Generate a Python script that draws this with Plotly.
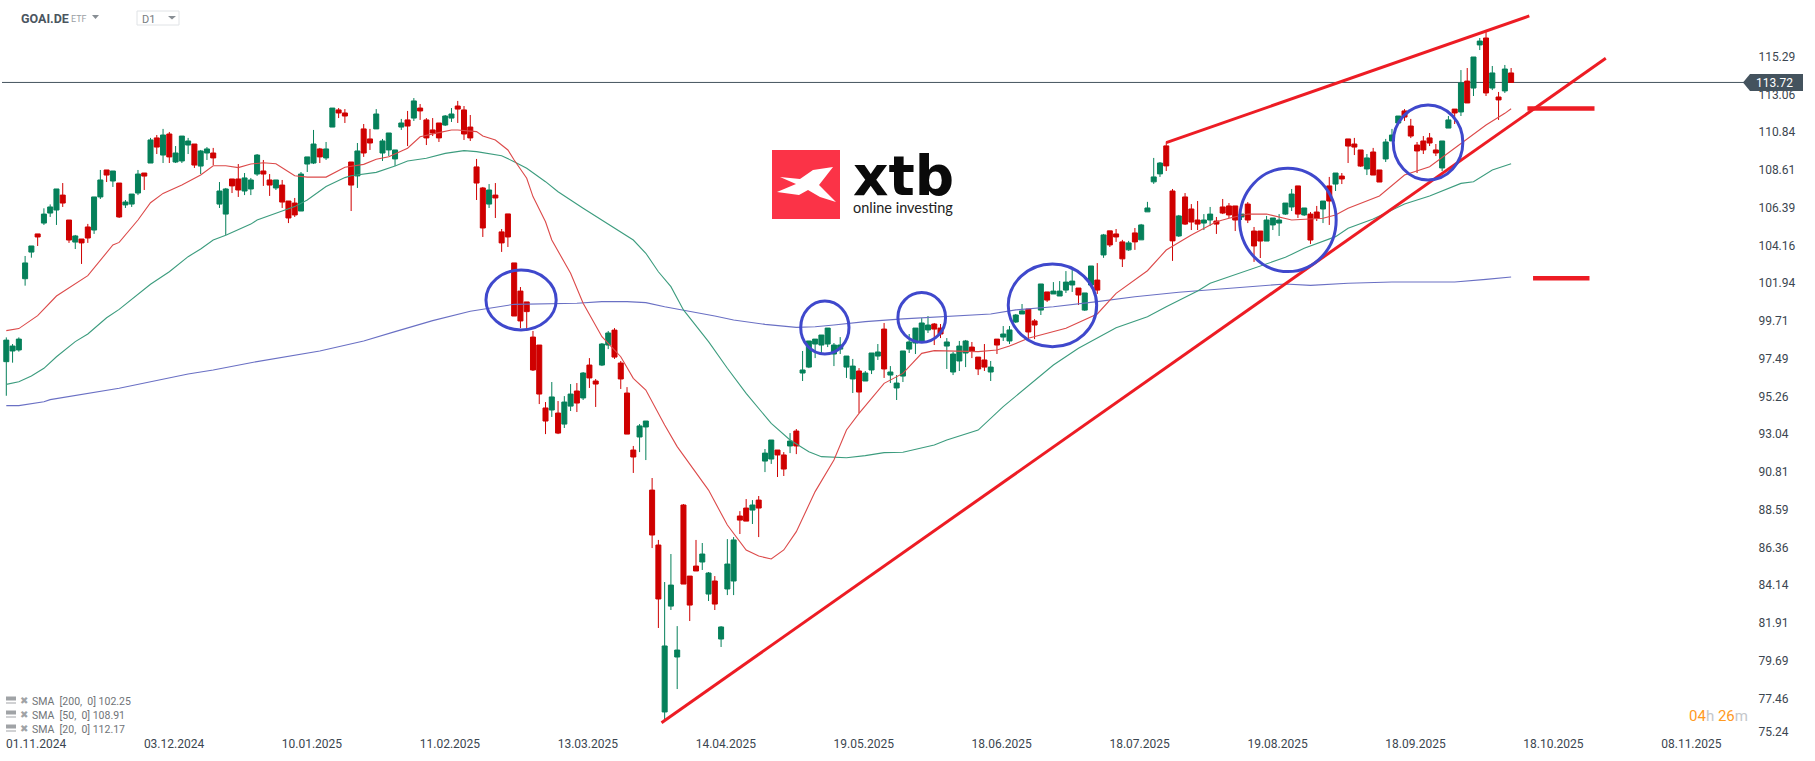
import plotly.graph_objects as go

# ---------- chart values ----------
directions = (
    "GGGGGRGGGR" "RGRRGGRGRG" "GGRGRGRGGG" "RGGRGGRRGG" "GRRGRRRGGG"
    "RGGRRRGRRG" "GGGGRGRRRR" "GGRRRRRGRR" "RRRRRRRGRG" "GRGRRGGRRR"
    "RGGRRGGGRR" "RGGRGGGRRG" "RGGRRGRGGG" "GGGGGGRGGG" "RGGGGGGGRR"
    "GGGGRRRGRG" "GGGRRGRGGG" "GRGGRGRRRG" "RGGGGRRGRR" "RGGRRRRGRR"
    "RGGGGGRGRR" "GRGRRRRGRR" "GGGRRRRRRG" "GRGRGGRGRGR"
)
highs = [
    98.69,98.30,98.69,103.49,104.08,104.79,106.30,106.53,107.44,107.79,
    105.61,104.73,104.49,105.38,106.97,108.56,108.56,108.50,107.79,106.79,
    107.14,108.56,108.38,110.45,110.62,110.98,110.80,109.97,110.56,110.45,
    110.09,109.74,109.91,109.86,107.85,107.50,108.03,108.91,108.38,108.09,
    109.50,109.15,108.32,107.97,107.97,106.73,106.91,108.44,109.33,110.92,
    109.86,110.21,112.21,112.21,112.15,109.03,110.15,111.27,110.98,112.15,
    110.39,110.74,109.74,111.57,112.04,112.80,112.45,111.62,111.62,111.33,
    111.80,112.21,112.63,112.33,111.80,109.21,107.56,107.73,107.79,105.08,
    105.97,103.08,101.66,100.78,99.07,98.24,94.88,96.06,94.94,95.23,
    95.94,96.00,96.65,97.47,96.24,98.36,99.07,99.24,97.30,95.76,
    92.29,93.58,93.76,90.40,86.75,84.27,85.92,81.67,88.87,84.62,
    86.75,86.57,84.86,84.62,81.67,86.80,86.92,88.45,89.16,89.10,
    89.34,92.11,92.64,92.05,91.93,93.05,93.29,97.89,98.48,98.59,
    98.83,99.24,98.36,98.71,97.59,97.42,96.88,96.71,97.77,98.30,
    99.54,97.00,96.47,97.89,98.89,99.24,99.83,99.95,99.54,99.48,
    98.65,97.83,98.48,98.54,98.42,97.53,98.30,97.30,98.59,99.36,
    99.36,100.07,100.66,100.36,99.77,101.84,101.37,101.95,102.01,102.60,
    102.66,101.60,101.31,102.90,103.07,104.79,104.97,105.08,104.44,104.38,
    105.14,105.38,106.68,109.27,109.03,110.21,107.44,105.91,107.20,106.55,
    106.73,105.96,106.38,105.79,106.85,106.61,106.44,105.96,106.67,105.20,
    104.96,105.85,105.73,105.96,106.61,107.44,107.62,106.32,106.08,106.44,
    106.73,108.15,108.38,108.38,110.39,110.45,109.74,109.50,109.86,108.56,
    110.39,110.98,111.74,112.15,111.57,110.21,110.56,110.74,110.09,110.27,
    111.74,112.15,114.45,114.57,115.22,116.34,116.69,114.69,113.16,114.75,114.57,
]
body_tops = [
    98.53,98.18,98.59,103.08,104.08,104.79,105.96,106.38,107.44,107.08,
    105.61,104.67,104.49,105.20,106.97,107.97,108.56,108.50,107.79,106.67,
    107.14,108.32,108.38,110.33,110.45,110.62,110.68,109.56,110.56,110.27,
    110.09,109.68,109.80,109.56,107.32,107.44,108.03,108.03,108.09,107.97,
    109.44,108.50,107.97,107.97,107.67,106.73,106.61,108.32,109.33,110.09,
    109.80,109.80,112.21,112.10,111.92,109.03,109.68,110.98,110.39,111.86,
    110.27,110.74,109.74,111.33,111.51,112.63,112.21,111.51,110.92,111.33,
    111.74,111.86,112.33,112.10,111.09,108.74,107.50,107.38,107.08,104.91,
    105.97,103.08,101.42,100.78,98.71,98.24,94.53,95.18,94.23,94.88,
    95.35,95.53,96.59,97.06,96.12,98.30,98.95,99.12,97.18,95.41,
    92.05,93.47,93.76,89.69,86.45,80.50,84.09,80.26,88.81,84.62,
    85.21,85.92,84.80,84.33,81.62,85.33,86.75,88.16,88.63,88.81,
    89.10,91.87,92.64,92.05,91.76,92.58,93.17,96.77,98.48,98.59,
    98.83,99.24,98.24,98.24,97.59,97.00,96.71,96.59,97.77,97.83,
    99.18,96.65,96.00,97.89,98.42,99.24,99.54,99.42,99.48,99.24,
    98.42,97.71,98.18,98.48,98.12,97.53,97.36,96.94,98.59,98.89,
    99.13,100.01,100.25,100.36,99.66,101.84,101.37,101.42,101.42,101.95,
    102.01,101.60,101.31,102.90,102.07,104.73,104.97,104.79,104.32,104.26,
    104.85,105.32,106.32,108.15,108.97,109.98,107.32,105.85,106.97,106.26,
    105.61,105.61,105.96,105.55,106.38,106.44,106.44,105.96,106.55,104.96,
    104.96,105.61,105.73,105.61,106.61,107.14,107.62,106.32,105.96,106.08,
    106.73,107.62,108.38,108.20,110.39,110.09,109.74,109.27,109.62,108.56,
    110.21,110.62,111.74,112.04,111.15,110.03,110.27,110.45,109.74,110.27,
    111.51,112.15,113.69,113.80,115.22,116.16,116.34,114.28,112.86,114.51,114.28,
]
body_bottoms = [
    97.26,97.89,97.95,102.15,103.72,104.61,105.43,106.02,106.20,106.61,
    104.43,104.31,104.26,104.55,105.02,106.97,108.26,107.91,105.79,106.50,
    106.55,107.20,108.20,108.97,109.91,109.44,109.33,109.03,109.09,110.03,
    108.85,108.79,109.56,109.27,106.55,105.96,107.62,107.38,107.32,107.44,
    108.32,108.32,107.67,107.50,106.67,105.73,105.91,106.14,108.91,108.97,
    109.33,109.27,111.09,111.92,111.74,107.67,108.21,109.56,110.15,110.98,
    109.56,109.74,109.21,111.09,111.15,111.62,112.04,110.45,110.74,110.45,
    111.21,111.62,112.15,110.68,110.45,107.79,105.14,106.55,106.91,104.26,
    104.61,99.95,99.66,100.21,96.77,95.35,93.76,94.41,93.05,93.58,
    94.64,94.82,95.12,96.30,95.94,97.06,98.24,97.53,96.24,92.99,
    91.64,92.82,93.41,87.04,83.27,76.61,82.85,79.85,84.15,82.91,
    84.92,85.45,83.56,82.97,80.91,83.86,84.33,87.92,87.86,88.51,
    88.63,91.40,91.52,91.76,90.93,92.29,92.29,96.59,96.94,98.30,
    98.24,98.30,97.71,98.00,96.94,96.24,95.47,96.12,96.77,97.59,
    96.83,96.47,95.71,96.41,98.00,98.36,98.48,99.13,99.18,98.89,
    98.18,96.65,97.30,97.77,97.89,96.83,96.94,96.65,98.24,98.71,
    98.48,99.60,100.07,99.01,99.42,100.30,100.89,101.25,101.13,101.48,
    101.78,101.19,100.30,101.78,101.48,103.55,104.14,104.61,103.32,103.85,
    104.32,104.44,106.09,107.86,108.33,108.80,104.38,104.67,105.37,105.49,
    105.37,105.43,105.61,105.37,106.02,105.91,105.61,105.79,105.61,104.08,
    104.37,104.37,105.32,105.43,105.96,106.38,105.96,105.91,104.43,105.73,
    106.26,106.73,107.73,108.03,109.97,109.91,108.79,108.62,108.26,107.85,
    109.21,110.27,111.33,111.68,110.56,109.68,109.74,110.15,109.56,108.68,
    111.03,111.92,111.98,112.51,113.39,115.93,113.10,113.39,112.69,113.22,113.72,
]
lows = [
    95.25,97.20,97.85,101.74,103.39,104.08,105.32,105.79,105.32,106.38,
    104.26,103.90,103.02,104.26,104.79,106.85,107.85,107.56,105.73,106.32,
    106.38,107.08,107.38,108.97,109.50,108.97,108.97,108.97,108.97,109.50,
    108.68,108.32,109.15,108.85,106.32,104.73,107.20,106.97,107.08,107.08,
    108.21,107.62,107.03,107.38,106.32,105.43,105.79,106.14,108.44,108.91,
    108.97,109.15,111.09,111.62,111.33,106.14,107.50,109.33,109.74,110.98,
    109.09,109.38,108.79,110.92,109.97,111.45,111.51,110.03,110.56,110.21,
    111.15,111.39,111.33,110.33,110.27,106.79,104.61,106.32,105.73,103.73,
    104.02,99.95,99.24,99.07,96.71,94.76,92.99,94.00,92.99,93.35,
    94.35,94.29,95.00,95.71,94.59,97.00,98.00,97.42,95.65,92.99,
    90.70,91.93,91.46,86.27,81.56,76.13,82.62,77.96,84.15,81.97,
    84.92,84.98,83.15,82.62,80.44,83.50,83.50,87.10,87.86,87.69,
    86.92,90.75,91.23,90.46,90.52,91.87,91.81,96.12,96.88,97.47,
    97.77,98.12,97.00,97.71,96.30,95.41,94.23,96.12,96.53,97.36,
    96.30,96.00,95.00,96.06,97.77,97.71,98.48,98.95,98.24,98.65,
    96.83,96.47,96.71,96.94,97.47,96.47,96.71,96.12,97.71,98.48,
    98.30,99.54,100.07,98.54,98.59,100.01,100.78,101.25,101.13,101.31,
    101.37,100.60,100.25,101.72,101.25,103.38,104.02,104.32,102.84,103.79,
    103.85,104.44,106.09,107.74,108.15,108.50,103.20,104.61,105.32,105.02,
    105.02,105.02,105.26,104.79,105.96,105.73,104.96,105.61,105.43,103.14,
    103.37,104.37,105.02,104.67,105.91,106.14,105.73,105.85,104.20,105.55,
    105.43,105.32,107.32,107.73,108.97,109.44,108.74,108.26,108.26,107.85,
    109.03,110.27,111.33,111.45,110.44,108.38,109.50,109.97,109.38,108.50,
    111.03,111.27,111.74,112.51,112.92,115.63,112.92,113.27,111.51,113.10,113.72,
]

sma20_x = [0,2,5,8,13,17,18,21,23,25,28,31,33,35,37,39,41,43,45,46,48,51,54,57,59,61,64,66,69,71,72,75,76,78,79,80,81,83,84,86,87,90,92,95,98,100,102,105,107,112,115,118,120,122,124,126,129,132,134,136,140,143,146,148,155,158,160,163,169,174,177,182,185,189,193,195,198,201,205,210,212,214,219,223,227,231,236,239,240]
sma20_y = [99.09,99.21,99.97,101.13,102.33,104.14,104.29,105.61,106.63,107.18,107.67,108.26,108.81,108.81,108.70,108.91,108.99,108.93,108.46,108.22,108.14,108.14,108.72,108.89,109.19,109.34,109.84,110.52,110.76,110.92,110.92,110.82,110.56,110.33,110.03,109.74,109.15,108.07,106.99,105.51,104.43,102.47,100.70,98.73,97.55,96.28,95.59,93.53,92.25,89.69,87.63,86.16,85.80,85.63,86.16,87.24,89.60,91.46,93.23,94.21,95.98,96.57,97.75,97.91,97.85,97.95,98.18,98.64,99.23,100.07,101.29,102.62,103.84,104.73,105.51,105.71,105.96,105.96,105.61,105.71,105.91,106.30,107.03,108.26,108.75,109.84,111.21,111.90,112.17]

sma50_x = [0,2,4,6,8,11,13,16,18,20,23,26,29,31,33,35,38,39,40,43,46,48,51,54,55,59,62,64,67,70,73,75,77,79,81,83,86,88,90,92,100,102,104,106,108,112,115,118,122,125,128,130,134,137,140,143,148,150,155,159,167,171,177,182,185,190,192,195,204,207,212,214,218,223,227,232,234,237,240]
sma50_y = [95.92,96.08,96.41,96.87,97.55,98.44,98.89,99.85,100.34,100.95,101.82,102.56,103.45,103.90,104.43,104.71,105.22,105.37,105.61,106.00,106.40,106.79,107.58,108.11,108.22,108.42,108.79,109.09,109.25,109.54,109.70,109.64,109.50,109.40,109.05,108.66,107.87,107.28,106.79,106.30,104.43,103.65,102.56,101.68,100.31,98.44,96.87,95.39,93.62,92.64,91.95,91.66,91.60,91.72,91.90,91.92,92.35,92.64,93.23,94.61,97.06,98.05,99.26,99.91,100.50,101.42,101.88,102.27,103.41,103.94,104.63,105.12,105.67,106.55,107.03,107.77,107.87,108.56,108.93]

sma200_x = [0,2,6,7,18,23,29,33,39,50,57,62,68,74,77,81,91,95,99,102,105,108,113,116,121,126,129,132,137,143,148,157,161,167,174,180,187,194,200,204,208,214,221,231,236,240]
sma200_y = [94.67,94.67,94.90,95.02,95.69,96.08,96.53,96.77,97.20,97.89,98.48,99.03,99.68,100.23,100.40,100.64,100.70,100.80,100.80,100.74,100.50,100.31,99.95,99.72,99.46,99.28,99.32,99.42,99.62,99.78,99.87,100.07,100.31,100.50,100.80,101.09,101.35,101.54,101.72,101.84,101.76,101.88,101.96,101.96,102.11,102.25]

last_price = 113.72
support_x, support_y = [104.5, 255.1], [75.98, 115.14]
resistance_x, resistance_y = [185.0, 242.9], [110.17, 117.64]
target_up_x, target_up_y = [242.6, 253.3], [112.19, 112.19]
target_down_x, target_down_y = [243.5, 252.5], [102.17, 102.17]

circle_left = [76.5, 126.7, 142.2, 159.8, 196.7, 221.2]
circle_right = [87.7, 134.4, 149.8, 173.9, 212.1, 232.3]
circle_low = [99.13, 97.71, 98.40, 98.14, 102.57, 107.97]
circle_high = [102.66, 100.84, 101.33, 103.02, 108.66, 112.39]

price_labels = ["115.29","113.06","110.84","108.61","106.39","104.16","101.94","99.71","97.49","95.26",
                "93.04","90.81","88.59","86.36","84.14","81.91","79.69","77.46","75.24"]
price_ticks = [115.24,113.01,110.79,108.56,106.34,104.11,101.89,99.66,97.44,95.21,
               92.99,90.76,88.54,86.31,84.09,81.86,79.64,77.41,75.43]
date_ticks = [4.75,26.75,48.75,70.75,92.75,114.75,136.75,158.75,180.75,202.75,224.75,246.75,268.75]
date_labels = ["01.11.2024","03.12.2024","10.01.2025","11.02.2025","13.03.2025","14.04.2025",
               "19.05.2025","18.06.2025","18.07.2025","19.08.2025","18.09.2025","18.10.2025","08.11.2025"]
legend_labels = ["SMA  [200,  0] 102.25", "SMA  [50,  0] 108.91", "SMA  [20,  0] 112.17"]

# ---------- styles ----------
W, H = 1815, 761
PLOT_W, PLOT_H = 1752, 738
RED, GREEN = "#cf0000", "#05805a"
PAINT_RED, PAINT_BLUE = "#ed1c24", "#3f48cc"
INK = "#3b4650"


def px(x):
    return x / PLOT_W


def py(y):
    return 1 - y / PLOT_H


def poly(points):
    return "M " + " L ".join(f"{px(x):.5f},{py(y):.5f}" for x, y in points) + " Z"


opens = [b if d == "G" else t for d, t, b in zip(directions, body_tops, body_bottoms)]
closes = [t if d == "G" else b for d, t, b in zip(directions, body_tops, body_bottoms)]
idx = list(range(len(closes)))

fig = go.Figure()
for xs, ys, col in [(sma200_x, sma200_y, "#6a70c4"),
                    (sma50_x, sma50_y, "#3c9c7e"),
                    (sma20_x, sma20_y, "#dc4a4a")]:
    fig.add_trace(go.Scatter(x=xs, y=ys, mode="lines", line=dict(color=col, width=1.1),
                             hoverinfo="skip", showlegend=False))
fig.add_trace(go.Candlestick(
    x=idx, open=opens, high=highs, low=lows, close=closes, whiskerwidth=0,
    increasing=dict(line=dict(color=GREEN, width=1), fillcolor=GREEN),
    decreasing=dict(line=dict(color=RED, width=1), fillcolor=RED),
    showlegend=False, hoverinfo="skip"))
for xs, ys, w in [(support_x, support_y, 3), (resistance_x, resistance_y, 3),
                  (target_up_x, target_up_y, 4.5), (target_down_x, target_down_y, 4.5)]:
    fig.add_trace(go.Scatter(x=xs, y=ys, mode="lines", hoverinfo="skip", showlegend=False,
                             line=dict(color=PAINT_RED, width=w)))

shapes = [dict(type="line", xref="paper", yref="y", x0=px(2), x1=px(1746), y0=last_price, y1=last_price,
               line=dict(color="#44535e", width=1), layer="below")]
for x0, x1, y0, y1 in zip(circle_left, circle_right, circle_low, circle_high):
    shapes.append(dict(type="circle", xref="x", yref="y", x0=x0, x1=x1, y0=y0, y1=y1,
                       line=dict(color=PAINT_BLUE, width=3)))


def paper_shape(**kw):
    kw.update(xref="paper", yref="paper", line=kw.get("line", dict(width=0)))
    shapes.append(kw)


# price tag
paper_shape(type="path", fillcolor="#44535e",
            path=poly([(1743, 82.5), (1750, 74), (1803, 74), (1803, 91), (1750, 91)]))
# logo
paper_shape(type="rect", fillcolor="#fb3347", x0=px(772), x1=px(840), y0=py(219), y1=py(150))
paper_shape(type="path", fillcolor="#ffffff", path=poly([
    (833, 167), (813, 170), (800, 179), (780, 177), (796, 184), (777, 192), (799, 195),
    (808, 190), (820, 197), (836, 202), (819, 185)]))
# header controls
paper_shape(type="path", fillcolor="#888e94", path=poly([(92, 15), (99, 15), (95.5, 19)]))
paper_shape(type="rect", fillcolor="#ffffff", line=dict(color="#e0e3e6", width=1),
            x0=px(137), x1=px(179), y0=py(25), y1=py(11))
paper_shape(type="path", fillcolor="#888e94", path=poly([(168, 16), (176, 16), (172, 19.5)]))
# legend icons
for row_y in (700.5, 714.5, 728.5):
    paper_shape(type="rect", fillcolor="#a0a3a6", x0=px(6), x1=px(16), y0=py(row_y), y1=py(row_y - 4))
    paper_shape(type="rect", fillcolor="#a0a3a6", x0=px(6), x1=px(16), y0=py(row_y + 3), y1=py(row_y + 2))


def text(x, y, s, size=12, color=INK, family="Roboto", anchor="left", **kw):
    return dict(xref="paper", yref="paper", x=px(x - 1.5), y=py(y), text=s, showarrow=False,
                xanchor=anchor, yanchor="middle", align=anchor,
                font=dict(family=family, size=size, color=color), **kw)


annotations = [
    text(1755, 83, f"{last_price:.2f}", 12, "#ffffff"),
    text(20, 18.5, "<b>GOAI.DE</b>", 12.5, "#4a5560"),
    text(70, 19.5, "ETF", 9, "#9a9fa4"),
    text(141.5, 19.5, "D1", 11, "#777c82"),
    text(1688, 716,
         '<span style="color:#ff9a1f">04</span><span style="color:#c4c7ca">h</span> '
         '<span style="color:#ff9a1f">26</span><span style="color:#c4c7ca">m</span>', 15),
    text(852, 175.5, "<b>xtb</b>", 55, "#0a0a0a", "DejaVu Sans"),
    text(852, 207, "online investing", 14.5, "#222222", "Lato"),
]
for row_y, label in zip((701, 715, 729), legend_labels):
    annotations.append(text(31, row_y, label, 10.5, "#6f7377"))
    annotations.append(text(19.5, row_y - 0.5, "✖", 10, "#a0a3a6", "DejaVu Sans"))

fig.update_layout(
    width=W, height=H, autosize=False, paper_bgcolor="white", plot_bgcolor="white",
    margin=dict(l=0, r=W - PLOT_W, t=0, b=H - PLOT_H, pad=0),
    boxgap=0.2, boxgroupgap=0, hovermode=False, showlegend=False,
    shapes=shapes, annotations=annotations,
    xaxis=dict(range=[-1.005, 278.42], tickmode="array", tickvals=date_ticks, ticktext=date_labels,
               showgrid=False, zeroline=False, showline=False, ticks="", rangeslider=dict(visible=False),
               tickfont=dict(family="Roboto", size=12, color=INK), ticklen=0, ticklabelstandoff=-3),
    yaxis=dict(range=[118.58 - 0.05895 * PLOT_H, 118.58], side="right", tickmode="array", tickvals=price_ticks,
               ticktext=price_labels, showgrid=False, zeroline=False, showline=False,
               ticks="outside", ticklen=3, tickcolor="rgba(0,0,0,0)",
               tickfont=dict(family="Roboto", size=12, color=INK)),
)
fig.write_html("out.html", post_script="document.body.style.margin='0';document.body.style.overflow='hidden';",
               config=dict(displayModeBar=False))
